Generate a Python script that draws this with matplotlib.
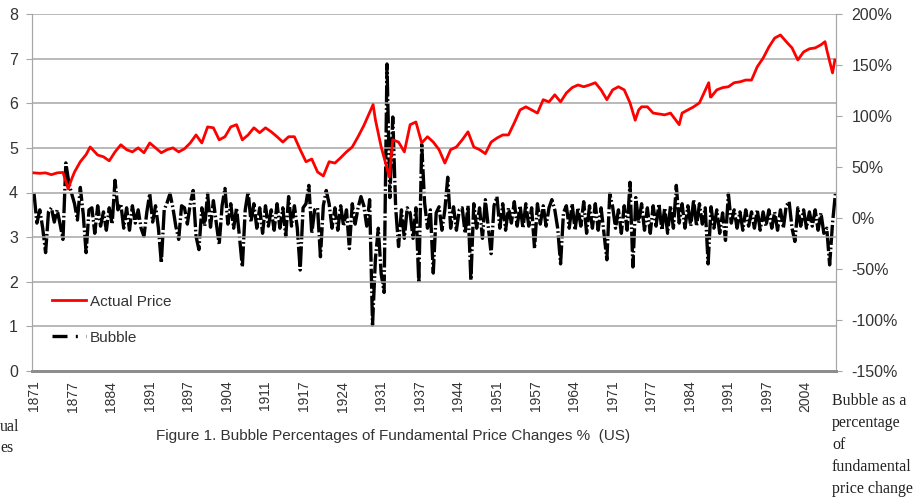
import numpy as np
import matplotlib
matplotlib.use("Agg")
import matplotlib.pyplot as plt
from matplotlib.lines import Line2D

# ---------------- data ----------------
price_years = [1871, 1872, 1873, 1874, 1875, 1876, 1876.9, 1877.5, 1878, 1879, 1880, 1880.7,
               1882, 1883, 1884, 1885, 1886, 1887, 1888, 1889, 1890, 1891, 1892, 1893, 1894,
               1895, 1896, 1897, 1898, 1899, 1900, 1901, 1902, 1903, 1904, 1905, 1906, 1907,
               1908, 1909, 1910, 1911, 1912, 1913, 1914, 1915, 1916, 1917, 1918, 1919, 1920,
               1921, 1922, 1923, 1924, 1925, 1926, 1927, 1928, 1929.6, 1930, 1931, 1932.4,
               1933, 1934, 1935, 1936, 1937, 1938, 1939, 1940, 1941, 1942, 1943, 1944, 1945,
               1946, 1947, 1948, 1949, 1950, 1951, 1952, 1953, 1954, 1955, 1956, 1957, 1958,
               1959, 1960, 1961, 1962, 1963, 1964, 1965, 1966, 1967, 1968, 1969, 1970, 1971,
               1972, 1973, 1974, 1974.9, 1975.5, 1976, 1977, 1978, 1979, 1980, 1981, 1982.5,
               1983, 1984, 1985, 1986, 1987.6, 1987.9, 1988, 1989, 1990, 1991, 1992, 1993,
               1994, 1995, 1996, 1997, 1998, 1999, 2000, 2001, 2002, 2003, 2004, 2005, 2006,
               2007, 2007.7, 2008, 2009, 2009.4]
price_values = [4.44, 4.43, 4.44, 4.40, 4.44, 4.45, 4.08, 4.30, 4.46, 4.69, 4.85, 5.02,
                4.84, 4.80, 4.71, 4.91, 5.07, 4.96, 4.91, 5.00, 4.89, 5.11, 5.00, 4.89, 4.96,
                5.00, 4.91, 4.98, 5.11, 5.29, 5.11, 5.47, 5.45, 5.18, 5.25, 5.47, 5.52, 5.18,
                5.29, 5.45, 5.34, 5.45, 5.36, 5.25, 5.13, 5.25, 5.25, 4.96, 4.69, 4.75, 4.46,
                4.37, 4.69, 4.66, 4.78, 4.91, 5.02, 5.25, 5.50, 5.97, 5.63, 5.02, 4.35,
                5.18, 5.13, 4.91, 5.52, 5.58, 5.11, 5.25, 5.13, 4.96, 4.66, 4.96, 5.02, 5.18,
                5.36, 5.02, 4.96, 4.87, 5.13, 5.22, 5.29, 5.29, 5.56, 5.85, 5.92, 5.85, 5.78,
                6.08, 6.03, 6.19, 6.03, 6.23, 6.35, 6.41, 6.37, 6.41, 6.46, 6.30, 6.08, 6.30,
                6.37, 6.30, 6.01, 5.62, 5.85, 5.92, 5.92, 5.78, 5.76, 5.74, 5.78, 5.52,
                5.78, 5.85, 5.92, 6.01, 6.46, 6.14, 6.14, 6.30, 6.35, 6.37, 6.46, 6.48,
                6.52, 6.52, 6.82, 7.01, 7.26, 7.46, 7.53, 7.38, 7.24, 6.97, 7.15, 7.22, 7.24,
                7.31, 7.38, 7.20, 6.68, 6.97]

# bubble (% of fundamental price change), two readings per year starting 1871.0
bubble_start = 1871.0
bubble_values = [
    24, -5, 8, -10, -34, 6, 10, -4, 8, -6, -21, 54, 35, 24, 14, -2, 30, 4, -34, 8,
    10, -15, 12, -8, 6, -12, 10, -6, 37, 8, 14, -10, 10, -12, 12, -5, 8, -10, -18, 6,
    24, -4, 12, -10, -44, 8, 15, 24, 10, -8, -21, 12, 10, -6, 14, 27, -18, -31, 10, -8,
    24, -9, 17, -5, -26, 12, 29, -6, 14, -10, 10, -18, -48, 8, 26, -4, 14, -10, 10, -15,
    12, -8, 8, -12, 14, -10, 10, -18, 21, -8, 12, -10, -51, 10, 14, 32, -15, 8, 10, -38,
    12, 27, 14, -10, 10, -12, 12, -8, 8, -30, 14, -6, 10, 21, 12, -8, 18, -105, -40, -10,
    -55, -73, 151, 20, 99, 10, -28, 8, -20, 10, 5, -20, 10, -64, 72, 15, -10, 8, -54, 5,
    11, -12, 8, 40, -10, 11, -12, 8, 10, -15, 12, -61, 14, -10, 10, -20, 18, -8, -35, 12,
    21, -10, 14, -12, 10, -5, 16, -8, 12, -10, 14, -8, 10, -30, 14, -6, 12, -8, 10, 18,
    8, -10, -45, 5, 12, -10, 14, -12, 10, -8, 16, -15, 12, -10, 14, -12, 10, -15, -41, 24,
    11, -10, 8, -15, 12, -12, 35, -48, 20, -5, 14, -12, 10, -15, 12, -8, 14, -12, 10, -15,
    12, -10, 32, -5, 14, -10, 12, -8, 18, -8, 14, -6, 10, -45, 11, -10, 8, -15, 5, -22,
    24, -5, 8, -10, 6, -12, 8, -8, 6, -10, 8, -12, 6, -8, 8, -10, 6, -12, 8, -10,
    12, 16, -10, -23, 10, -8, 8, -10, 6, -8, 8, -12, 5, -15, -10, -46, -5, 24]

xtick_labels = ["1871", "1877", "1884", "1891", "1897", "1904", "1911", "1917", "1924",
                "1931", "1937", "1944", "1951", "1957", "1964", "1971", "1977", "1984",
                "1991", "1997", "2004"]
left_ticks = [0, 1, 2, 3, 4, 5, 6, 7, 8]
right_ticks = [-150, -100, -50, 0, 50, 100, 150, 200]

# ---------------- plot ----------------
narrow = ["Liberation Sans", "DejaVu Sans"]
serif = ["Liberation Serif", "DejaVu Serif"]
txt = "#333333"
grid_c = "#a6a6a6"

fig = plt.figure(figsize=(9.16, 4.99), dpi=100)
ax = fig.add_axes([32 / 916, 1 - 371 / 499, (836 - 32) / 916, (371 - 14) / 499])
ax2 = ax.twinx()

bx = bubble_start + 0.5 * np.arange(len(bubble_values))
ax2.plot(bx, bubble_values, color="black", lw=2.4, ls=(0, (6, 0.8, 0.5, 0.8)),
         zorder=3)
ax.plot(price_years, price_values, color="#ff0000", lw=2.0, zorder=4)
ax.set_zorder(ax2.get_zorder() + 1)
ax.patch.set_visible(False)

x0, x1 = 1871.0, 2009.6
ax.set_xlim(x0 - 0.35, x1)
ax.set_ylim(0, 8)
ax2.set_ylim(-150, 200)

xt = [1871 + k * 80 / 12 for k in range(len(xtick_labels))]
ax.set_xticks(xt)
ax.set_xticklabels(xtick_labels, rotation=90, fontsize=10, color=txt, family=narrow)
ax.tick_params(axis="x", length=0, pad=7)

ax.set_yticks(left_ticks)
ax.set_yticklabels([str(t) for t in left_ticks], fontsize=11.5, color=txt, family=narrow)
ax.tick_params(axis="y", length=4, color=grid_c, pad=6)
ax.yaxis.grid(True, color=grid_c, lw=1.1)
ax.set_axisbelow(True)

ax2.set_yticks(right_ticks)
ax2.set_yticklabels([f"{t}%" for t in right_ticks], fontsize=11.5, color=txt, family=narrow)
ax2.tick_params(axis="y", length=4, color=grid_c, pad=7)

for a in (ax, ax2):
    a.spines["top"].set_visible(False)
    a.spines["left"].set_color(grid_c)
    a.spines["right"].set_color(grid_c)
    a.spines["bottom"].set_color("#8c8c8c")
    a.spines["bottom"].set_linewidth(2)

handles = [Line2D([], [], color="#ff0000", lw=2.0),
           Line2D([], [], color="black", lw=2.4, ls=(0, (4.5, 2.5, 0.6, 2.5)))]
leg = ax.legend(handles, ["Actual Price", "Bubble"], loc="lower left",
                bbox_to_anchor=(0.008, 0.035), frameon=False, handlelength=2.2,
                handletextpad=0.25, labelspacing=1.45,
                prop={"family": narrow, "size": 11})
for t in leg.get_texts():
    t.set_color(txt)

fig.text(393 / 916, 1 - 436 / 499, "Figure 1. Bubble Percentages of Fundamental Price Changes %  (US)",
         ha="center", va="center", fontsize=11, color=txt, family=narrow)

fig.text(0, 1 - 427 / 499, "ual", ha="left", va="center", fontsize=11.5,
         color="#222222", family=serif)
fig.text(0, 1 - 448 / 499, "es", ha="left", va="center", fontsize=11.5,
         color="#222222", family=serif)

for i, line in enumerate(["Bubble as a", "percentage", "of", "fundamental", "price change"]):
    fig.text(832 / 916, 1 - (401 + i * 22) / 499, line, ha="left", va="center",
             fontsize=11.5, color="#222222", family=serif)

fig.savefig("out.png", dpi=100)
